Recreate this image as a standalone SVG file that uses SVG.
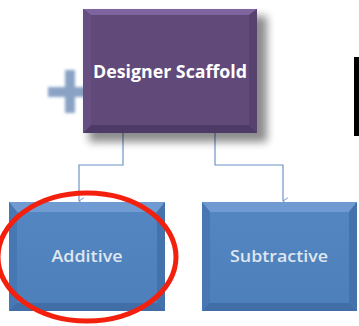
<svg xmlns="http://www.w3.org/2000/svg" width="359" height="326" viewBox="0 0 359 326">
<style>
.conn{fill:none;stroke:#6f93c6;stroke-width:1.2}
.lbl{font-family:"Open Sans","Liberation Sans",sans-serif;font-size:16px;font-weight:600;fill:#dfe6ee;text-anchor:middle}
</style>
<defs>
<marker id="arr" viewBox="0 0 10 10" refX="5" refY="9" markerWidth="8" markerHeight="8" orient="auto" markerUnits="userSpaceOnUse">
<path d="M1,3 L5,9 L9,3" fill="none" stroke="#6f93c6" stroke-width="1.2"/>
</marker>
<filter id="blur1"><feGaussianBlur stdDeviation="1.5"/></filter>
<filter id="shadow" x="-20%" y="-20%" width="150%" height="150%"><feGaussianBlur stdDeviation="4"/></filter>
<linearGradient id="bluefill" x1="0" y1="0" x2="0" y2="1">
<stop offset="0" stop-color="#5486c2"/><stop offset="1" stop-color="#4d7fbb"/>
</linearGradient>
</defs>
<rect width="359" height="326" fill="#ffffff"/>
<g id="plus" filter="url(#blur1)" fill="#8aa3c4">
<rect x="48" y="87" width="38" height="10"/>
<rect x="65" y="70" width="10" height="43"/>
</g>
<g id="connectors">
<path class="conn" d="M123,133 V165 H79 V201" marker-end="url(#arr)"/>
<path class="conn" d="M215,133 V165 H283 V201" marker-end="url(#arr)"/>
</g>
<g id="designer-scaffold">
<rect x="89" y="16" width="178" height="126" fill="#000" opacity="0.45" filter="url(#shadow)"/>
<rect x="83" y="9" width="174" height="124" fill="#614979"/>
<polygon points="83,9 257,9 249,15 91,15" fill="#7f65a0"/>
<polygon points="83,133 257,133 249,125 91,125" fill="#4e3a66"/>
<polygon points="83,9 91,15 91,125 83,133" fill="#684f82"/>
<polygon points="257,9 249,15 249,125 257,133" fill="#57416f"/>
<text x="170" y="78" font-family="'Open Sans','Liberation Sans',sans-serif" font-size="18" font-weight="bold" fill="#ffffff" text-anchor="middle" textLength="154" lengthAdjust="spacingAndGlyphs">Designer Scaffold</text>
</g>
<g id="additive">
<rect x="9" y="202" width="156" height="109" fill="url(#bluefill)"/>
<polygon points="9,202 165,202 157,212 17,212" fill="#6f9ad2"/>
<polygon points="9,202 17,212 17,303 9,311" fill="#4878b3"/>
<polygon points="165,202 157,212 157,303 165,311" fill="#4472ab"/>
<polygon points="9,311 165,311 157,303 17,303" fill="#416ea6"/>
<text class="lbl" x="87" y="262" textLength="71" lengthAdjust="spacingAndGlyphs">Additive</text>
</g>
<g id="subtractive">
<rect x="202" y="202" width="155" height="109" fill="url(#bluefill)"/>
<polygon points="202,202 357,202 349,212 210,212" fill="#6f9ad2"/>
<polygon points="202,202 210,212 210,303 202,311" fill="#4878b3"/>
<polygon points="357,202 349,212 349,303 357,311" fill="#4472ab"/>
<polygon points="202,311 357,311 349,303 210,303" fill="#416ea6"/>
<text class="lbl" x="279" y="262" textLength="98" lengthAdjust="spacingAndGlyphs">Subtractive</text>
</g>
<rect x="354" y="57" width="5" height="79" fill="#000"/>
<ellipse cx="87" cy="257" rx="89" ry="64" fill="none" stroke="#f4200e" stroke-width="5"/>
</svg>
